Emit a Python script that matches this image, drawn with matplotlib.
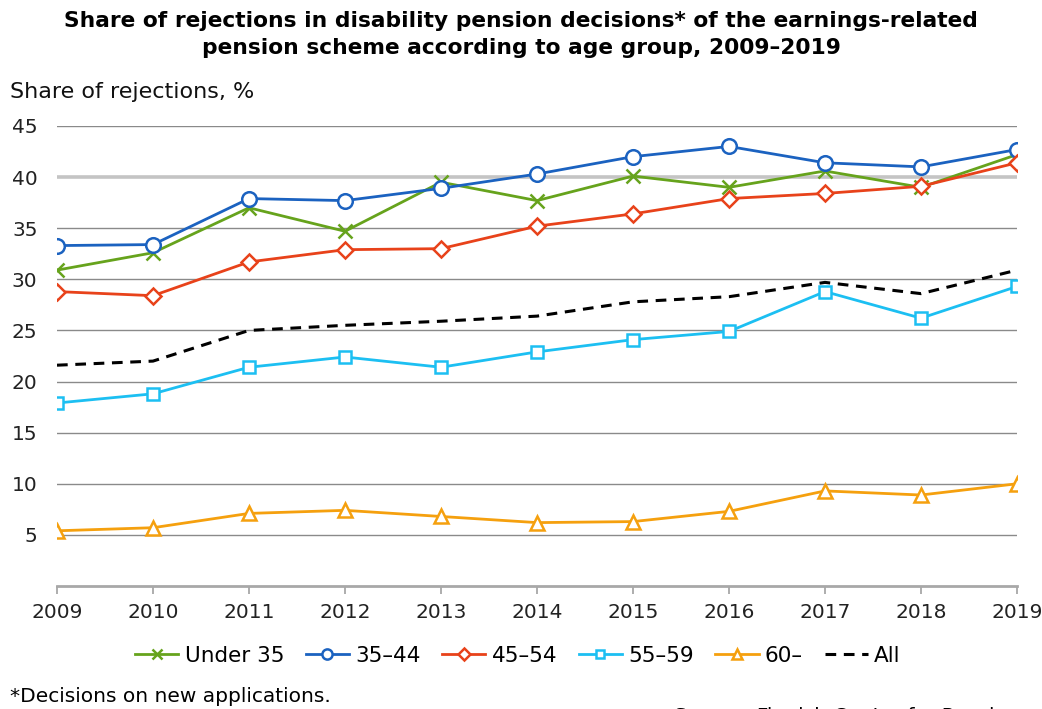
import matplotlib
matplotlib.use("Agg")
import matplotlib.pyplot as plt

years = [2009, 2010, 2011, 2012, 2013, 2014, 2015, 2016, 2017, 2018, 2019]

under_35 = [30.9, 32.6, 37.0, 34.7, 39.5, 37.7, 40.1, 39.0, 40.6, 39.0, 42.2]
age_35_44 = [33.3, 33.4, 37.9, 37.7, 38.9, 40.3, 42.0, 43.0, 41.4, 41.0, 42.7]
age_45_54 = [28.8, 28.4, 31.7, 32.9, 33.0, 35.2, 36.4, 37.9, 38.4, 39.1, 41.4]
age_55_59 = [17.9, 18.8, 21.4, 22.4, 21.4, 22.9, 24.1, 24.9, 28.8, 26.2, 29.3]
age_60 = [5.4, 5.7, 7.1, 7.4, 6.8, 6.2, 6.3, 7.3, 9.3, 8.9, 10.0]
all_ages = [21.6, 22.0, 25.0, 25.5, 25.9, 26.4, 27.8, 28.3, 29.7, 28.6, 30.9]

yticks = [5, 10, 15, 20, 25, 30, 35, 40, 45]

plt.rcParams['font.family'] = ['DejaVu Sans']

fig = plt.figure(figsize=(10.42, 7.09), dpi=100)
ax = fig.add_axes([0.0547, 0.1735, 0.9213, 0.6488])

# grid lines (the 40 line is drawn lighter and thicker like in the original)
for v in yticks:
    if v == 40:
        ax.axhline(v, color="#c4c4c4", lw=2.6, zorder=0)
    else:
        ax.axhline(v, color="#8a8a8a", lw=1.0, zorder=0)

lw = 2.0
ms = 9.5
mew = 1.8
ax.plot(years, under_35, color="#66a31c", lw=lw, marker="x", ms=ms + 1, mew=mew,
        label="Under 35", zorder=3)
ax.plot(years, age_35_44, color="#1b62c0", lw=lw, marker="o", ms=ms + 1, mew=mew,
        mfc="white", label="35\u201344", zorder=4)
ax.plot(years, age_45_54, color="#e8421a", lw=lw, marker="D", ms=ms - 1, mew=mew,
        mfc="white", label="45\u201354", zorder=5)
ax.plot(years, age_55_59, color="#1cbff2", lw=lw, marker="s", ms=ms - 0.5, mew=mew,
        mfc="white", label="55\u201359", zorder=3)
ax.plot(years, age_60, color="#f5a00e", lw=lw, marker="^", ms=ms + 1, mew=mew,
        mfc="white", label="60\u2013", zorder=3)
ax.plot(years, all_ages, color="black", lw=2.2, ls=(0, (3.5, 2.5)),
        label="All", zorder=2)

ax.set_xlim(2009, 2019)
ax.set_ylim(0, 45)
ax.set_yticks(yticks)
ax.set_xticks(years)
ax.tick_params(axis="y", length=0, pad=14, labelsize=14.5, labelcolor="#222222")
ax.tick_params(axis="x", length=6, width=1.2, color="#a0a0a0", pad=6,
               labelsize=14.5, labelcolor="#222222")

for side in ["top", "right", "left"]:
    ax.spines[side].set_visible(False)
ax.spines["bottom"].set_color("#a8a8a8")
ax.spines["bottom"].set_linewidth(2)

fig.text(0.5, 0.985, "Share of rejections in disability pension decisions* of the earnings-related\n"
         "pension scheme according to age group, 2009\u20132019",
         ha="center", va="top", fontsize=15.7, fontweight="bold", linespacing=1.45)
fig.text(0.0096, 0.87, "Share of rejections, %", ha="left", va="center", fontsize=16,
         color="#111111")

ax.legend(loc="center", bbox_to_anchor=(0.48, -0.152), ncol=6, frameon=False,
          fontsize=15.5, handlelength=2.0, handletextpad=0.3, columnspacing=1.0,
          markerscale=0.7)

fig.text(0.0096, 0.018, "*Decisions on new applications.", ha="left", va="center",
         fontsize=14.5)
fig.text(0.647, -0.01, "Source: Finnish Centre for Pensions", ha="left", va="center",
         fontsize=14.5)

fig.savefig("out.png", dpi=100)
